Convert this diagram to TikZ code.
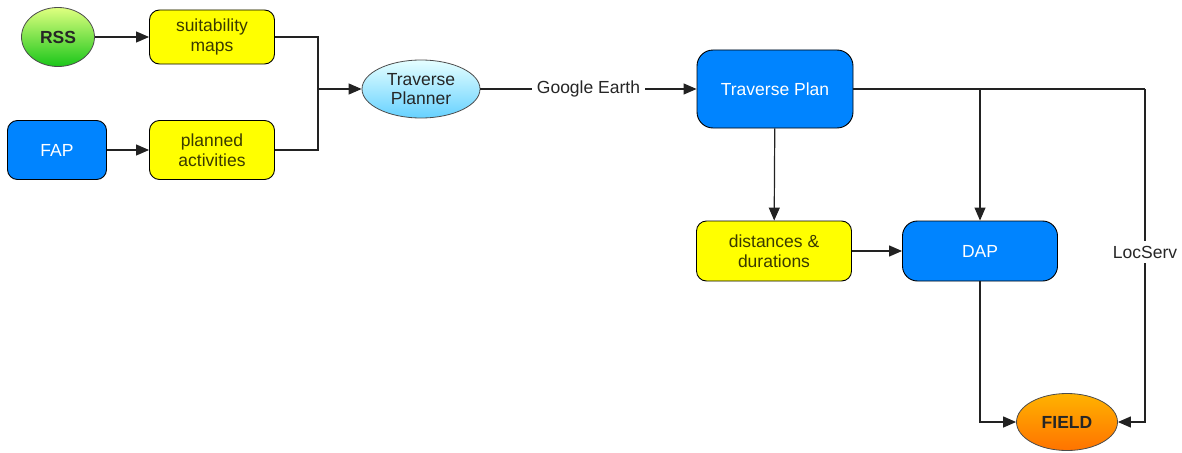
\documentclass[tikz,border=0pt]{standalone}
\usepackage{fontspec}
\setmainfont{Liberation Sans}
\usetikzlibrary{arrows.meta,shapes.geometric}
\definecolor{boxblue}{HTML}{0084FF}
\definecolor{boxyellow}{HTML}{FFFF00}
\definecolor{edgecol}{HTML}{222222}
\definecolor{ytext}{HTML}{3A3A00}
\tikzset{
  x=1pt,y=-1pt,
  every node/.style={font=\fontsize{17.5}{19.5}\selectfont},
  ybox/.style={draw=black,line width=0.9pt,fill=boxyellow,rounded corners=10pt,align=center,text=ytext},
  bbox/.style={draw=black,line width=0.9pt,fill=boxblue,rounded corners=12pt,align=center,text=white},
  ell/.style={ellipse,draw=black!70,line width=0.8pt,align=center,inner sep=0pt},
  conn/.style={draw=edgecol,line width=1.2pt},
  arr/.style={conn,-{Triangle[length=13pt,width=11pt]}},
  lbl/.style={fill=white,inner sep=5pt,text=black!85},
}
\begin{document}
\begin{tikzpicture}
\useasboundingbox (0,0) rectangle (1182,452);
% nodes
\node[ell,minimum width=73pt,minimum height=59pt,top color=green!25!yellow!50!white,bottom color=green!75!black!90,font=\fontsize{17.5}{19.5}\selectfont\bfseries,text=black!85] (rss) at (58,37) {RSS};
\node[ybox,minimum width=125pt,minimum height=54pt] (suit) at (212,37) {suitability\\maps};
\node[bbox,minimum width=99pt,minimum height=59pt,rounded corners=10pt] (fap) at (57,150) {FAP};
\node[ybox,minimum width=125pt,minimum height=59pt] (plan) at (212,150) {planned\\activities};
\node[ell,minimum width=118pt,minimum height=58pt,top color=cyan!10!white,bottom color=cyan!70!blue!60!white,text=black!85] (tp) at (421,89) {Traverse\\Planner};
\node[bbox,minimum width=156pt,minimum height=78pt,rounded corners=16pt] (tplan) at (775,89) {Traverse Plan};
\node[ybox,minimum width=155pt,minimum height=60pt] (dist) at (774,251) {distances \&\\durations};
\node[bbox,minimum width=155pt,minimum height=60pt,rounded corners=15pt] (dap) at (980,251) {DAP};
\node[ell,minimum width=101pt,minimum height=57pt,top color=orange!60!yellow,bottom color=orange!90!red,font=\fontsize{17.5}{19.5}\selectfont\bfseries,text=black!85] (field) at (1067,422) {FIELD};
\coordinate (j1) at (318,89);
\coordinate (j2) at (980,89);
\coordinate (j3) at (1145,89);
% connectors
\draw[arr] (rss) -- (suit);
\draw[arr] (fap) -- (plan);
\draw[conn] (suit.east) -| (j1);
\draw[conn] (plan.east) -| (j1);
\draw[arr] (j1) -- (tp);
\draw[arr] (tp) -- node[lbl] {Google Earth} (tplan);
\draw[arr] (tplan) -- (dist);
\draw[arr] (dist) -- (dap);
\draw[conn] (tplan.east) -- (j3);
\draw[arr] (j2) -- (dap.north);
\draw[arr] (j3) -- node[lbl,pos=0.49,inner xsep=2pt] {LocServ} (j3 |- field) -- (field.east);
\draw[arr] (dap.south) |- (field.west);
\end{tikzpicture}
\end{document}
